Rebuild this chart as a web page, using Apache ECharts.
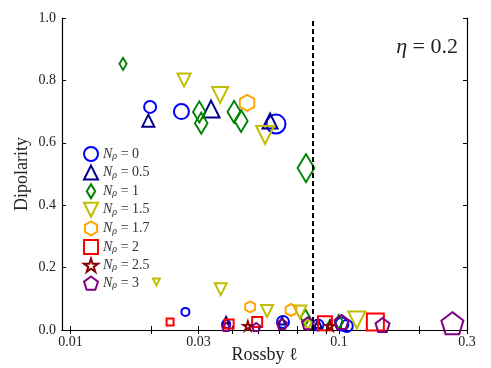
<!DOCTYPE html>
<html>
<head>
<meta charset="utf-8">
<script src="https://cdn.jsdelivr.net/npm/echarts@6/dist/echarts.min.js"></script>
<style>
  html, body { margin: 0; padding: 0; background: #fff; }
  #main { width: 491px; height: 368px; }
</style>
</head>
<body>
<div id="main"></div>
<script>
// [Rossby, dipolarity, marker size] per point
var np0 = [[0.0198, 0.715, 12], [0.0259, 0.700, 15], [0.0583, 0.660, 19], [0.0268, 0.058, 8],
  [0.0380, 0.019, 8], [0.0619, 0.026, 12], [0.0836, 0.016, 11], [0.1026, 0.019, 13], [0.107, 0.013, 12]];
var np05 = [[0.0195, 0.671, 12], [0.0334, 0.708, 17], [0.0554, 0.670, 15], [0.0380, 0.032, 6],
  [0.0614, 0.029, 7], [0.0836, 0.019, 8]];
var np1 = [[0.0157, 0.853, 12], [0.0302, 0.699, 21], [0.0307, 0.663, 21], [0.0407, 0.699, 22],
  [0.0432, 0.670, 22], [0.0754, 0.519, 28], [0.0750, 0.040, 16], [0.1, 0.026, 14], [0.0926, 0.016, 10]];
var np15 = [[0.0265, 0.801, 13], [0.0361, 0.753, 16], [0.0531, 0.625, 18], [0.0209, 0.154, 7],
  [0.0363, 0.131, 12], [0.0540, 0.061, 12], [0.0716, 0.058, 13], [0.0767, 0.016, 9], [0.1166, 0.032, 17]];
var np17 = [[0.0455, 0.728, 16], [0.0467, 0.074, 11], [0.0663, 0.064, 12]];
var np2 = [[0.0235, 0.026, 7], [0.0390, 0.019, 9], [0.0496, 0.026, 10], [0.0887, 0.022, 14], [0.1367, 0.026, 17]];
var np25 = [[0.0458, 0.013, 9], [0.0926, 0.013, 9]];
var np3 = [[0.0380, 0.0096, 8], [0.0492, 0.0096, 8], [0.0614, 0.019, 10], [0.0767, 0.022, 12],
  [0.1023, 0.026, 14], [0.1454, 0.016, 14], [0.2647, 0.022, 22]];

var npLabels = ['0', '0.5', '1', '1.5', '1.7', '2', '2.5', '3'];
var xTicks = [0.01, 0.02, 0.03, 0.04, 0.05, 0.06, 0.07, 0.08, 0.09, 0.1, 0.2, 0.3];
var xLabels = [0.01, 0.03, 0.1, 0.3];
var criticalRo = 0.0802;

var serif = 'Liberation Serif';
var shapes = {
  circle: 'circle',
  up: 'path://M0,-1 L1,1 L-1,1 Z',
  down: 'path://M-1,-1 L1,-1 L0,1 Z',
  diamond: 'path://M0,-1 L1,0 L0,1 L-1,0 Z',
  thinDiamond: 'path://M0,-1 L0.6,0 L0,1 L-0.6,0 Z',
  hexagon: 'path://M0,-1 L0.866,-0.5 L0.866,0.5 L0,1 L-0.866,0.5 L-0.866,-0.5 Z',
  square: 'rect',
  star: 'path://M0,-1 L0.2245,-0.309 L0.951,-0.309 L0.3633,0.118 L0.588,0.809 L0,0.382 L-0.588,0.809 L-0.3633,0.118 L-0.951,-0.309 L-0.2245,-0.309 Z',
  pentagon: 'path://M0,-1 L0.951,-0.309 L0.588,0.809 L-0.588,0.809 L-0.951,-0.309 Z'
};

var groups = [
  { data: np0, color: '#0000ff', symbol: shapes.circle, icon: shapes.circle },
  { data: np05, color: '#00008b', symbol: shapes.up, icon: shapes.up },
  { data: np1, color: '#008000', symbol: shapes.diamond, icon: shapes.thinDiamond, aspect: 0.6 },
  { data: np15, color: '#bfbf00', symbol: shapes.down, icon: shapes.down },
  { data: np17, color: '#ffa500', symbol: shapes.hexagon, icon: shapes.hexagon, aspect: 0.9 },
  { data: np2, color: '#ff0000', symbol: shapes.square, icon: shapes.square },
  { data: np25, color: '#8b0000', symbol: shapes.star, icon: shapes.star },
  { data: np3, color: '#800080', symbol: shapes.pentagon, icon: shapes.pentagon }
];

var series = groups.map(function (g, i) {
  var a = g.aspect || 1;
  return {
    name: npLabels[i],
    type: 'scatter',
    data: g.data,
    symbol: g.symbol,
    symbolSize: function (d) { return [d[2] * a, d[2]]; },
    itemStyle: { color: 'rgba(0,0,0,0)', borderColor: g.color, borderWidth: 2, opacity: 1 },
    emphasis: { disabled: true }
  };
});

series.push({
  type: 'scatter',
  data: [],
  silent: true,
  markLine: {
    silent: true,
    symbol: 'none',
    label: { show: false },
    lineStyle: { type: [5, 3], color: '#000', width: 2 },
    data: [{ xAxis: criticalRo }]
  }
});

var chart = echarts.init(document.getElementById('main'));

function logAxis(pos, showLabels) {
  return {
    type: 'log',
    logBase: 10,
    position: pos,
    min: 0.0093,
    max: 0.3,
    name: showLabels ? 'Rossby ℓ' : '',
    nameLocation: 'middle',
    nameGap: 16,
    nameMoveOverlap: false,
    nameTextStyle: { fontFamily: serif, fontSize: 18, color: '#222' },
    axisLine: { show: true, lineStyle: { color: '#000', width: 1.2 } },
    axisTick: { show: true, inside: true, length: 4, customValues: xTicks, lineStyle: { color: '#000' } },
    axisLabel: {
      show: showLabels, customValues: xLabels, margin: 5,
      fontFamily: serif, fontSize: 14, color: '#222',
      formatter: function (v) { return String(v); }
    },
    minorTick: { show: false },
    splitLine: { show: false }
  };
}

function valAxis(pos, showLabels) {
  return {
    type: 'value',
    position: pos,
    min: 0,
    max: 1.0,
    interval: 0.2,
    name: showLabels ? 'Dipolarity' : '',
    nameLocation: 'middle',
    nameGap: 31,
    nameMoveOverlap: false,
    nameTextStyle: { fontFamily: serif, fontSize: 18, color: '#222' },
    axisLine: { show: true, lineStyle: { color: '#000', width: 1.2 } },
    axisTick: { show: true, inside: true, length: 4, lineStyle: { color: '#000' } },
    axisLabel: {
      show: showLabels, margin: 6, fontFamily: serif, fontSize: 14, color: '#222',
      formatter: function (v) { return v.toFixed(1); }
    },
    splitLine: { show: false }
  };
}

chart.setOption({
  animation: false,
  backgroundColor: '#fff',
  grid: { left: 62, right: 24, top: 18, bottom: 38, containLabel: false, outerBoundsMode: 'none' },
  xAxis: [logAxis('bottom', true), logAxis('top', false)],
  yAxis: [valAxis('left', true), valAxis('right', false)],
  legend: {
    orient: 'vertical',
    left: 78,
    top: 141,
    itemWidth: 14,
    itemHeight: 14,
    itemGap: 2.6,
    selectedMode: false,
    data: groups.map(function (g, i) {
      return { name: npLabels[i], icon: g.icon };
    }),
    formatter: function (name) { return '{n|N}{r|ρ}{t| = ' + name + '}'; },
    textStyle: {
      color: '#333',
      rich: {
        n: { fontFamily: serif, fontStyle: 'italic', fontSize: 14, lineHeight: 14, color: '#333' },
        r: { fontFamily: serif, fontStyle: 'italic', fontSize: 10, lineHeight: 9, padding: [5, 0, 0, 0], color: '#333' },
        t: { fontFamily: serif, fontSize: 14, lineHeight: 14, color: '#333' }
      }
    }
  },
  graphic: [{
    type: 'text',
    right: 33,
    top: 36,
    style: {
      text: '{e|η} = 0.2',
      fontFamily: serif,
      fontSize: 22,
      fill: '#222',
      rich: { e: { fontFamily: serif, fontStyle: 'italic', fontSize: 22, fill: '#222' } }
    }
  }],
  series: series
});
</script>
</body>
</html>
